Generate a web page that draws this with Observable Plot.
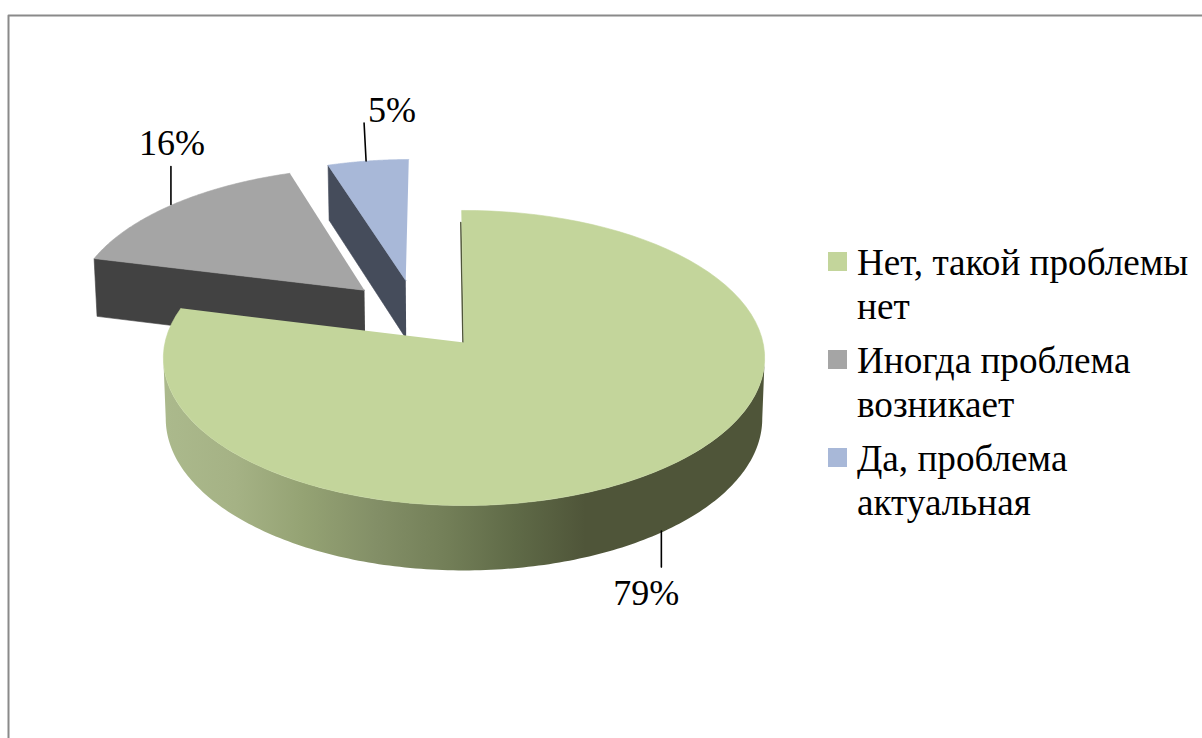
<!DOCTYPE html>
<html><head><meta charset="utf-8">
<script src="https://cdn.jsdelivr.net/npm/d3@7"></script>
<script src="https://cdn.jsdelivr.net/npm/@observablehq/plot@0.6"></script>
<style>
html,body{margin:0;padding:0;background:#fff;width:1202px;height:738px;overflow:hidden}
#wrap{position:relative;width:1202px;height:738px}
#wrap svg{position:absolute;left:0;top:0}
#legend{position:absolute;left:827px;top:241px;font:37.2px/43.5px "Liberation Serif",serif;color:#000}
.item{position:relative;padding-left:30px;width:345px;margin-bottom:11px}
.sw{position:absolute;left:1px;top:11px;width:19px;height:19px}
</style></head><body><div id="wrap"><div id="legend"></div></div>
<script>
// Data
const categories = ["Нет, такой проблемы нет", "Иногда проблема возникает", "Да, проблема актуальная"];
const shares = [79, 16, 5];
const topColors = ["#c3d59b", "#a5a5a5", "#a8b8d8"];
const wallColors = [null, "#424242", "#454c5b"];
const shadeStops = ["#abb98c", "#a5b285", "#94a273", "#838f67", "#737f58", "#5f6a47", "#4f5539", "#4f5539"];

// Pie geometry (pixel frame of the picture)
const apex = [463.5, 342], a = 299, b = 145.9, k = 0.1051, startDeg = -0.5;
const explode = [[0, 0], [-0.346, 0.372], [-0.204, 0.445]];
const rad = d => d * Math.PI / 180;
function project(u, v) {
  const s = 1 / (1 + k * v);
  return {x: apex[0] + a * u * s, y: apex[1] - b * v * s, s};
}
function lower(p) {
  return {x: apex[0] + (p.x - apex[0]) * 0.992, y: p.y + 55 + (p.s - 0.87) * 40};
}
function rim(i, deg, r = 1) {
  const [ox, oy] = explode[i];
  return project(ox + r * Math.sin(rad(deg)), oy + r * Math.cos(rad(deg)));
}
let acc = startDeg;
const slices = shares.map((v, i) => {
  const from = acc, to = acc + v * 3.6; acc = to;
  return {i, from, to, mid: (from + to) / 2};
});
function arcAngles(from, to, n) { return d3.range(n + 1).map(j => from + (to - from) * j / n); }

// Polygons as point rows
const tops = slices.map(sl => [rim(sl.i, 0, 0), ...arcAngles(sl.from, sl.to, 90).map(d => rim(sl.i, d))]
  .map(p => ({x: p.x, y: p.y})));
function quad(i, deg) {
  const A = rim(i, 0, 0), B = rim(i, deg);
  return [A, B, lower(B), lower(A)].map(p => ({x: p.x, y: p.y}));
}
const grayWall = quad(1, slices[1].from);
const blueWall = quad(2, slices[2].from);

// Outer green wall: one band between the two silhouette tangents, shaded by a horizontal gradient
const wallArc = arcAngles(96, 264, 180).map(d => rim(0, d));
const outerWall = [...wallArc, ...wallArc.map(lower).reverse()].map(p => ({x: p.x, y: p.y}));
const shadeFrom = 165, shadeStep = 70;
const wallGradient = () => {
  const defs = d3.create("svg:defs");
  const g = defs.append("linearGradient").attr("id", "wallShade")
    .attr("gradientUnits", "userSpaceOnUse")
    .attr("x1", shadeFrom).attr("x2", shadeFrom + shadeStep * (shadeStops.length - 1))
    .attr("y1", 0).attr("y2", 0);
  shadeStops.forEach((c, j) => g.append("stop").attr("offset", j / (shadeStops.length - 1)).attr("stop-color", c));
  return defs.node();
};

// Leader lines and labels
const m0 = lower(rim(0, slices[0].mid)), m1 = rim(1, slices[1].mid), m2 = rim(2, slices[2].mid);
const leaders = [
  [{x: m0.x - 3, y: m0.y}, {x: m0.x - 3, y: m0.y + 36}],
  [{x: m1.x - 2, y: m1.y}, {x: m1.x - 2, y: m1.y - 38}],
  [{x: m2.x - 2, y: m2.y}, {x: m2.x - 4, y: m2.y - 38}]
];
const labels = [
  {x: m0.x - 18, y: m0.y + 66, t: shares[0] + "%"},
  {x: m1.x - 1, y: m1.y - 58, t: shares[1] + "%"},
  {x: m2.x + 24, y: m2.y - 47, t: shares[2] + "%"}
];
const frameLine = [{x: 1202, y: 15}, {x: 8, y: 15}, {x: 8, y: 738}];
const sliver = [rim(0, slices[0].from, 0.9), rim(0, 0, 0)].map(p => ({x: p.x - 1, y: p.y}));

const poly = (rows, fill) => Plot.line(rows, {x: "x", y: "y", fill, stroke: fill, strokeWidth: 0.6, curve: "linear"});
const chart = Plot.plot({
  width: 1202, height: 738,
  margin: 0,
  x: {domain: [0, 1202], range: [0, 1202], axis: null},
  y: {domain: [0, 738], range: [0, 738], axis: null},
  style: {background: "transparent"},
  marks: [
    wallGradient,
    Plot.line(frameLine, {x: "x", y: "y", stroke: "#8a8a8a", strokeWidth: 2}),
    poly(blueWall, wallColors[2]),
    poly(tops[2], topColors[2]),
    poly(grayWall, wallColors[1]),
    poly(tops[1], topColors[1]),
    Plot.line(outerWall, {x: "x", y: "y", fill: "url(#wallShade)", stroke: "none", curve: "linear"}),
    Plot.line(sliver, {x: "x", y: "y", stroke: "#4f5539", strokeWidth: 1.6}),
    poly(tops[0], topColors[0]),
    ...leaders.map(l => Plot.line(l, {x: "x", y: "y", stroke: "#000", strokeWidth: 1.6})),
    Plot.text(labels, {x: "x", y: "y", text: "t", fontSize: 36, fontFamily: "Liberation Serif", fill: "#000", textAnchor: "middle", lineAnchor: "bottom", dy: 8})
  ]
});
document.getElementById("wrap").prepend(chart);
const legend = d3.select("#legend");
categories.forEach((c, i) => {
  const it = legend.append("div").attr("class", "item");
  it.append("span").attr("class", "sw").style("background", topColors[i]);
  it.append("span").text(c);
});
</script></body></html>
